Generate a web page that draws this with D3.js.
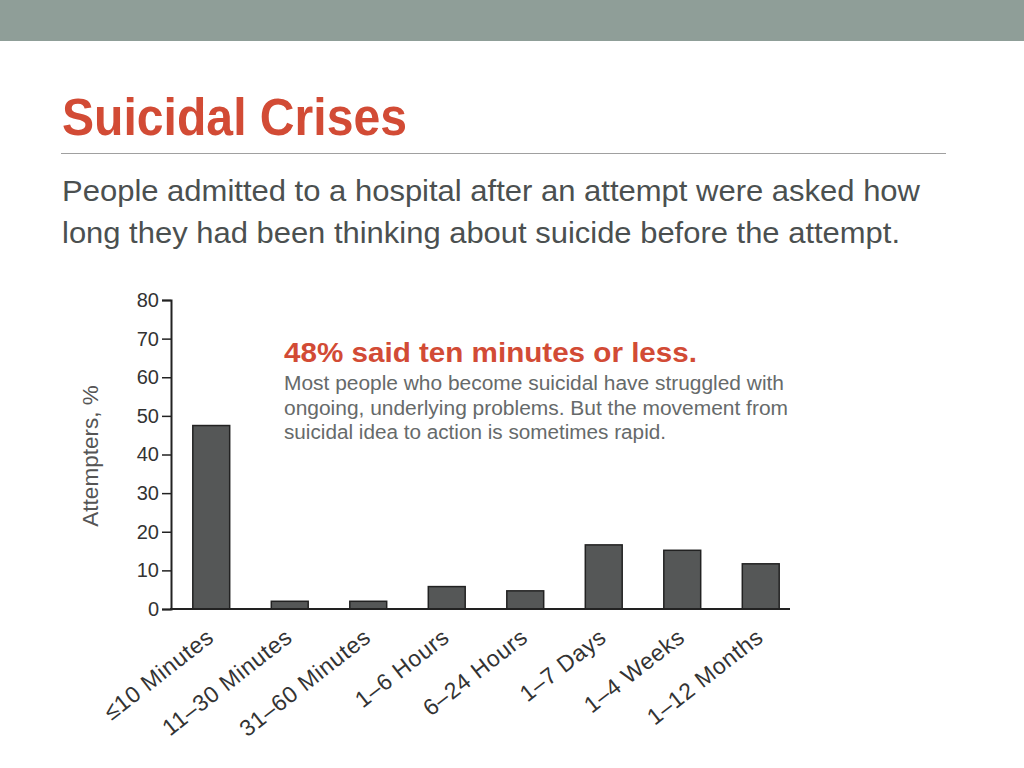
<!DOCTYPE html>
<html>
<head>
<meta charset="utf-8">
<script src="https://cdn.jsdelivr.net/npm/d3@7/dist/d3.min.js"></script>
<style>
  body { margin: 0; background: #fff; }
  svg { display: block; font-family: "Liberation Sans", Arial, sans-serif; }
</style>
</head>
<body>
<div id="chart"></div>
<script>
// time between thinking about suicide and the attempt
const categories = ["\u226410 Minutes", "11\u201330 Minutes", "31\u201360 Minutes", "1\u20136 Hours",
  "6\u201324 Hours", "1\u20137 Days", "1\u20134 Weeks", "1\u201312 Months"];
const attempters = [47.5, 2, 2, 5.8, 4.7, 16.6, 15.2, 11.7];
const yTicks = [0, 10, 20, 30, 40, 50, 60, 70, 80];

const title = "Suicidal Crises";
const subtitle = ["People admitted to a hospital after an attempt were asked how",
  "long they had been thinking about suicide before the attempt."];
const noteHead = "48% said ten minutes or less.";
const noteBody = ["Most people who become suicidal have struggled with",
  "ongoing, underlying problems. But the movement from",
  "suicidal idea to action is sometimes rapid."];

const W = 1024, H = 768;
const svg = d3.select("#chart").append("svg")
  .attr("width", W)
  .attr("height", H);

// header band
svg.append("rect")
  .attr("x", 0).attr("y", 0)
  .attr("width", W).attr("height", 41)
  .attr("fill", "#8f9e98");

svg.append("text")
  .attr("x", 62).attr("y", 135)
  .attr("fill", "#d24b35")
  .attr("font-size", 51)
  .attr("font-weight", "bold")
  .attr("textLength", 345)
  .attr("lengthAdjust", "spacingAndGlyphs")
  .text(title);

svg.append("line")
  .attr("x1", 61).attr("x2", 946)
  .attr("y1", 153.5).attr("y2", 153.5)
  .attr("stroke", "#a0a0a0")
  .attr("stroke-width", 1);

const subLens = [858, 838];
svg.selectAll(".sub").data(subtitle).enter().append("text")
  .attr("class", "sub")
  .attr("x", 62)
  .attr("y", (d, i) => 201 + i * 42)
  .attr("fill", "#4b5050")
  .attr("font-size", 30)
  .attr("textLength", (d, i) => subLens[i])
  .attr("lengthAdjust", "spacingAndGlyphs")
  .text(d => d);

// chart
const x = d3.scaleBand()
  .domain(categories)
  .range([172, 800])
  .paddingInner(0.53)
  .paddingOuter(0.265);

const y = d3.scaleLinear()
  .domain([0, 80])
  .range([609, 300]);

const g = svg.append("g");

g.selectAll(".bar").data(attempters).enter().append("rect")
  .attr("class", "bar")
  .attr("x", (d, i) => x(categories[i]))
  .attr("width", x.bandwidth())
  .attr("y", d => y(d))
  .attr("height", d => y(0) - y(d))
  .attr("fill", "#555757")
  .attr("stroke", "#222")
  .attr("stroke-width", 1.5);

const yAxis = g.append("g")
  .attr("transform", "translate(171,0)")
  .call(d3.axisLeft(y).tickValues(yTicks).tickSize(9).tickPadding(3));
yAxis.select(".domain").attr("stroke", "#222").attr("stroke-width", 2);
yAxis.selectAll(".tick line").attr("stroke", "#222").attr("stroke-width", 1.5);
yAxis.selectAll(".tick text")
  .attr("fill", "#333")
  .attr("font-size", 20)
  .attr("font-family", "Liberation Sans, Arial, sans-serif");

g.append("line")
  .attr("x1", 170).attr("x2", 790)
  .attr("y1", y(0)).attr("y2", y(0))
  .attr("stroke", "#222")
  .attr("stroke-width", 2);

g.selectAll(".xlab").data(categories).enter().append("text")
  .attr("class", "xlab")
  .attr("transform", d => `translate(${x(d) + x.bandwidth() / 2 + 4},${y(0) + 31}) rotate(-38)`)
  .attr("text-anchor", "end")
  .attr("fill", "#333")
  .attr("font-size", 23)
  .attr("letter-spacing", 0.6)
  .text(d => d);

g.append("text")
  .attr("transform", "translate(98,456) rotate(-90)")
  .attr("text-anchor", "middle")
  .attr("fill", "#555")
  .attr("font-size", 22.5)
  .text("Attempters, %");

// annotation
svg.append("text")
  .attr("x", 284).attr("y", 362)
  .attr("fill", "#d24b35")
  .attr("font-size", 28.5)
  .attr("font-weight", "bold")
  .attr("textLength", 413)
  .attr("lengthAdjust", "spacingAndGlyphs")
  .text(noteHead);

const bodyLens = [500, 504, 382];
svg.selectAll(".note").data(noteBody).enter().append("text")
  .attr("class", "note")
  .attr("x", 284)
  .attr("y", (d, i) => 390 + i * 24.5)
  .attr("fill", "#666a6a")
  .attr("font-size", 19.5)
  .attr("textLength", (d, i) => bodyLens[i])
  .attr("lengthAdjust", "spacingAndGlyphs")
  .text(d => d);
</script>
</body>
</html>
